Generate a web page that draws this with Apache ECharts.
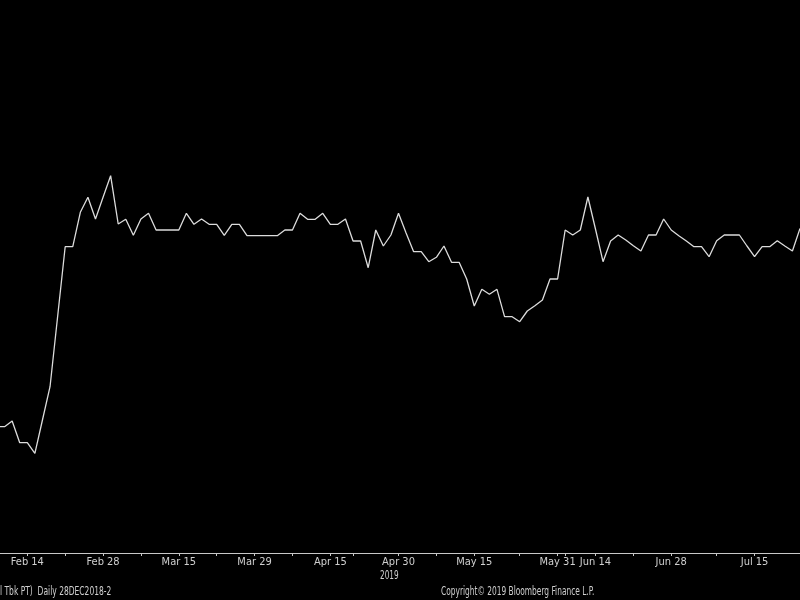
<!DOCTYPE html>
<html>
<head>
<meta charset="utf-8">
<script src="https://cdn.jsdelivr.net/npm/echarts@6/dist/echarts.min.js"></script>
<style>
html,body{margin:0;padding:0;background:#000;}
#chart{width:800px;height:600px;}
</style>
</head>
<body>
<div id="chart"></div>
<script>
// Trading days (Indonesian exchange, 2019)
const dates = [
"2019-02-08","2019-02-11","2019-02-12","2019-02-13","2019-02-14","2019-02-15",
"2019-02-18","2019-02-19","2019-02-20","2019-02-21","2019-02-22",
"2019-02-25","2019-02-26","2019-02-27","2019-02-28","2019-03-01",
"2019-03-04","2019-03-05","2019-03-06","2019-03-08",
"2019-03-11","2019-03-12","2019-03-13","2019-03-14","2019-03-15",
"2019-03-18","2019-03-19","2019-03-20","2019-03-21","2019-03-22",
"2019-03-25","2019-03-26","2019-03-27","2019-03-28","2019-03-29",
"2019-04-01","2019-04-02","2019-04-04","2019-04-05",
"2019-04-08","2019-04-09","2019-04-10","2019-04-11","2019-04-12",
"2019-04-15","2019-04-16","2019-04-18",
"2019-04-22","2019-04-23","2019-04-24","2019-04-25","2019-04-26",
"2019-04-29","2019-04-30","2019-05-02","2019-05-03",
"2019-05-06","2019-05-07","2019-05-08","2019-05-09","2019-05-10",
"2019-05-13","2019-05-14","2019-05-15","2019-05-16","2019-05-17",
"2019-05-20","2019-05-21","2019-05-22","2019-05-23","2019-05-24",
"2019-05-27","2019-05-28","2019-05-29","2019-05-31",
"2019-06-10","2019-06-11","2019-06-12","2019-06-13","2019-06-14",
"2019-06-17","2019-06-18","2019-06-19","2019-06-20","2019-06-21",
"2019-06-24","2019-06-25","2019-06-26","2019-06-27","2019-06-28",
"2019-07-01","2019-07-02","2019-07-03","2019-07-04","2019-07-05",
"2019-07-08","2019-07-09","2019-07-10","2019-07-11","2019-07-12",
"2019-07-15","2019-07-16","2019-07-17","2019-07-18","2019-07-19",
"2019-07-22","2019-07-23"
];

// Price level (relative units, the price axis is not visible in the crop)
const prices = [
126.3,126.3,132,110.3,110.3,99.7,
133,166.3,236.3,306.3,306.3,
340.7,355.7,334,355.7,377.3,
329,333.7,317.7,334,
339.7,323,323,323,323,
339.7,328.7,334,328.7,328.7,
317.7,328.7,328.7,317.3,317.3,
317.3,317.3,317.3,323,
323,339.7,333.7,333.7,339.7,
328.7,328.7,334,
312,312,285.3,323,307,
318,339.7,320,301.3,
301.3,291.3,295.7,307,290.7,
290.7,274,247,263.7,258.7,
263.7,236.3,236.3,231.3,242,
247.3,253,274,274,
323,318,323,356,324,
291.3,312,318,313,307.3,
302,318,318,334,323,
317.3,312,306.3,306.3,296.3,
312.3,318,318,318,307,
296.3,306.3,306.3,312.3,307,
302,324.5
];

// Labelled dates and extra tick dates
const labelDates = ["2019-02-14","2019-02-28","2019-03-15","2019-03-29","2019-04-15","2019-04-30",
  "2019-05-15","2019-05-31","2019-06-14","2019-06-28","2019-07-15"];
const minorTickDates = ["2019-02-21","2019-03-08","2019-03-22","2019-04-08","2019-04-22",
  "2019-05-08","2019-05-23","2019-06-10","2019-06-21","2019-07-08","2019-07-23"];

const monthNames = ["Jan","Feb","Mar","Apr","May","Jun","Jul","Aug","Sep","Oct","Nov","Dec"];
const labelIdx = labelDates.map(d => dates.indexOf(d));
const tickIdx = labelDates.concat(minorTickDates).map(d => dates.indexOf(d)).sort((a,b)=>a-b);

const FONT = "'Liberation Sans Narrow','DejaVu Sans Condensed',sans-serif";
const TXT = '#cfcfcf';

const chart = echarts.init(document.getElementById('chart'));
chart.setOption({
  backgroundColor: '#000',
  animation: false,
  grid: { left: 0, right: 0, top: 0, bottom: 47, containLabel: false },
  xAxis: {
    type: 'value',
    min: 0.396,
    max: dates.length - 1,
    axisLine: { show: true, onZero: false, lineStyle: { color: '#c8c8c8', width: 1.2 } },
    axisTick: {
      show: true, length: 3, inside: false,
      customValues: tickIdx,
      lineStyle: { color: '#c8c8c8', width: 1 }
    },
    axisLabel: {
      show: true,
      customValues: labelIdx,
      formatter: v => { const p = dates[Math.round(v)].split('-'); return monthNames[+p[1]-1] + ' ' + (+p[2]); },
      color: TXT, fontSize: 11, fontFamily: FONT, margin: 4
    },
    splitLine: { show: false }
  },
  yAxis: {
    type: 'value', min: 0, max: 553, show: false,
    splitLine: { show: false }
  },
  series: [{
    type: 'line',
    data: prices.map((p, i) => [i, p]),
    showSymbol: false,
    symbol: 'none',
    smooth: false,
    clip: true,
    lineStyle: { color: '#dcdcdc', width: 1.3 }
  }],
  graphic: [
    { type: 'text', x: 380, y: 570, scaleX: 0.68, style: { text: '2019', fill: TXT, font: '12px ' + FONT } },
    { type: 'text', x: 0, y: 586, scaleX: 0.70, style: { text: 'l Tbk PT)  Daily 28DEC2018-2', fill: TXT, font: '12px ' + FONT } },
    { type: 'text', x: 441, y: 586, scaleX: 0.69, style: { text: 'Copyright\u00a9 2019 Bloomberg Finance L.P.', fill: TXT, font: '12px ' + FONT } }
  ]
});
</script>
</body>
</html>
